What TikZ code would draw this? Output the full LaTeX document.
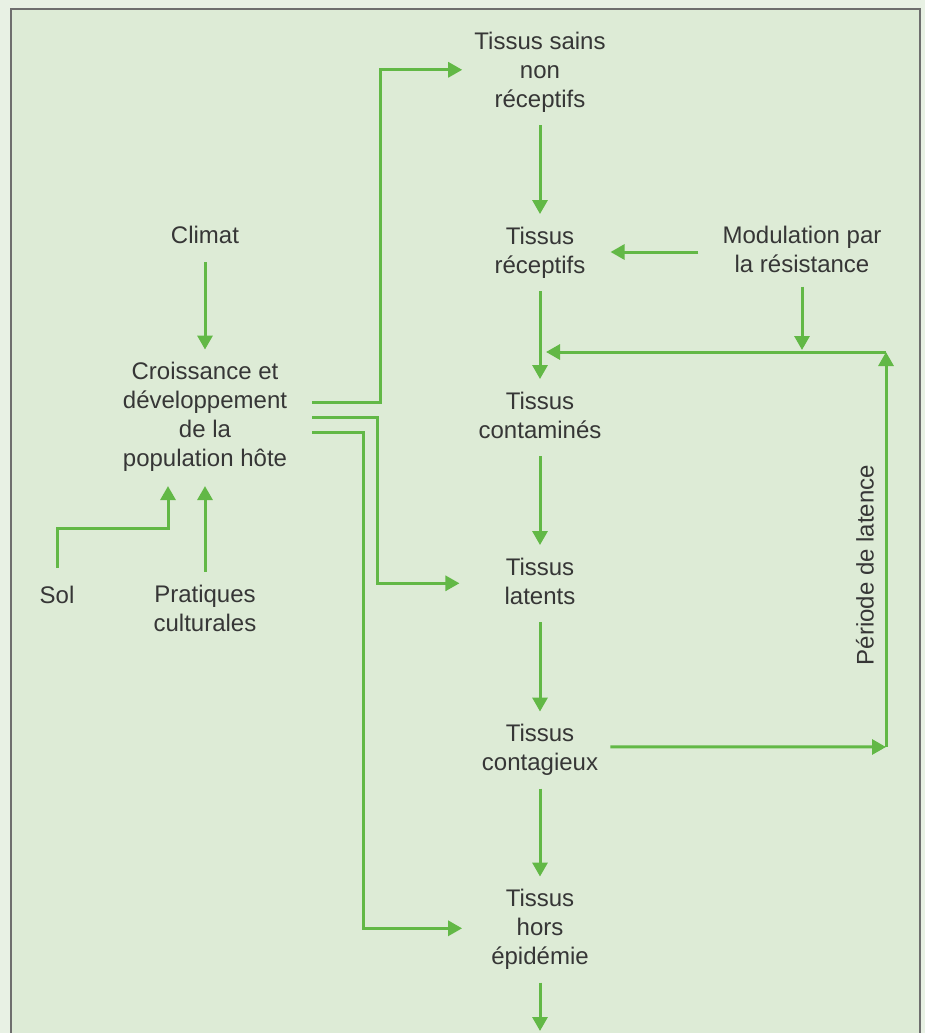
\documentclass[tikz,border=0pt]{standalone}
\usepackage{fontspec}
\setmainfont{Liberation Sans}
\usetikzlibrary{arrows.meta,calc}
\definecolor{bgin}{HTML}{DDEBD6}
\definecolor{bgout}{HTML}{E8F1E4}
\definecolor{agreen}{HTML}{62B846}
\definecolor{txt}{HTML}{363636}
\definecolor{framegray}{HTML}{6E6E6E}
\begin{document}
\begin{tikzpicture}[x=1pt,y=-1pt,
  lbl/.style={align=center,inner sep=0pt,text=txt,font=\fontsize{24}{29}\selectfont,
    execute at begin node=\strut, execute at end node=\strut},
  lblplain/.style={inner sep=0pt,text=txt,font=\fontsize{24}{29}\selectfont},
  arr/.style={draw=agreen,line width=3pt,-{Triangle[length=14pt,width=15pt]}},
  vchain/.style={arr,shorten <=9pt,shorten >=12.5pt}]
\useasboundingbox (0,0) rectangle (925,1033);
\fill[bgout] (0,0) rectangle (925,1033);
\fill[bgin] (11,9) rectangle (920,1040);
\draw[framegray,line width=1.5pt] (11,1040) -- (11,9) -- (920,9) -- (920,1040);

% left column
\node[lbl] (climat) at (205,238) {Climat};
\node[lbl] (croiss) at (205,418.3) {Croissance et\\développement\\de la\\population hôte};
\node[lbl] (sol) at (57,597.8) {Sol};
\node[lbl] (prat) at (205,612.3) {Pratiques\\culturales};

% right column
\node[lbl] (sains) at (540,73.8) {Tissus sains\\non\\réceptifs};
\node[lbl] (recep) at (540,254.3) {Tissus\\réceptifs};
\node[lbl] (conta) at (540,419.3) {Tissus\\contaminés};
\node[lbl] (latents) at (540,585.3) {Tissus\\latents};
\node[lbl] (contag) at (540,751.8) {Tissus\\contagieux};
\node[lbl] (hors) at (540,931.3) {Tissus\\hors\\épidémie};
\node[lbl] (modul) at (802,254) {Modulation par\\la résistance};
\node[lblplain,rotate=90] (periode) at (865,565) {Période de latence};

\coordinate (br) at (886,747);
\coordinate (tr) at (886,352);
\coordinate (exit) at (540,1031);
\coordinate (o1) at ($(croiss.east)+(25,-16)$);
\coordinate (o2) at ($(croiss.east)+(25,-1)$);
\coordinate (o3) at ($(croiss.east)+(25,14)$);

% inputs to host population
\draw[arr,shorten <=9.5pt,shorten >=12pt] (climat) -- (croiss);
\draw[arr,shorten <=13pt,shorten >=11pt] (prat) -- (croiss);
\draw[arr,shorten <=15pt,shorten >=11pt] (sol.north) -- ++(0,-55) -| ([xshift=-37pt]croiss.south);

% outputs of host population
\draw[arr,shorten >=12pt] (o1) -- ++(68,0) |- ($(sains.west)+(0,-4)$);
\draw[arr,shorten >=45pt] (o2) -- ++(65,0) |- ($(latents.west)+(0,-2)$);
\draw[arr,shorten >=29pt] (o3) -- ++(51,0) |- ($(hors.west)+(0,-3)$);

% main chain
\draw[vchain] (sains) -- (recep);
\draw[vchain] (recep) -- (conta);
\draw[vchain] (conta) -- (latents);
\draw[vchain] (latents) -- (contag);
\draw[vchain] (contag) -- (hors);
\draw[arr,shorten <=9pt] (hors.south) -- (exit);

% resistance modulation
\draw[arr,shorten <=24pt,shorten >=25pt] ($(modul.west)+(0,-2)$) -- ($(recep.east |- modul.west)+(0,-2)$);
\draw[arr,shorten <=5pt,shorten >=2pt] (modul.south) -- (modul.south |- tr);

% latency loop
\draw[arr,shorten <=12pt] ($(contag.east)+(0,-5)$) -- (br);
\draw[arr] (br) -- (tr);
\draw[arr,shorten >=6pt] (tr) -- (recep.south |- tr);
\end{tikzpicture}
\end{document}
